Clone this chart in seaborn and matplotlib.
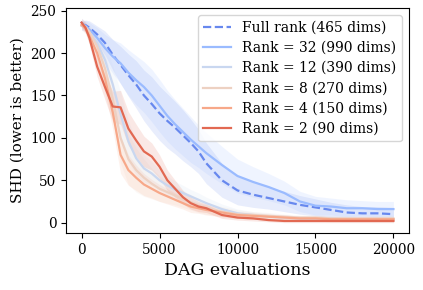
import matplotlib
matplotlib.use("Agg")
import matplotlib.pyplot as plt
import seaborn as sns
import numpy as np

evals = [0, 250, 500, 1000, 1500, 2000, 2500, 3000, 3500, 4000, 4500, 5000, 5500, 6000,
         6500, 7000, 7500, 8000, 9000, 10000, 11000, 12000, 13000, 14000, 15000, 16000,
         17000, 18000, 19000, 20000]

labels = ["Full rank (465 dims)", "Rank = 32 (990 dims)", "Rank = 12 (390 dims)",
          "Rank = 8 (270 dims)", "Rank = 4 (150 dims)", "Rank = 2 (90 dims)"]

full_rank = [232, 233, 230, 222, 212, 198, 186, 174, 163, 150, 140, 129, 120, 112,
             103, 94, 84, 70, 50, 38, 33, 29, 25, 21, 18, 15, 12, 11, 11, 10]
rank32 = [236, 232, 228, 218, 206, 196, 188, 177, 168, 160, 150, 138, 126, 116,
          107, 98, 90, 82, 68, 55, 48, 42, 35, 25, 20, 19, 17, 17, 16, 16]
rank12 = [232, 230, 224, 212, 192, 163, 128, 96, 76, 64, 58, 50, 44, 39,
          35, 31, 27, 23, 16, 11, 9, 7, 6, 5, 5, 5, 4, 4, 4, 4]
rank8 = [234, 231, 225, 208, 182, 145, 100, 75, 62, 53, 46, 40, 36, 32,
         28, 24, 20, 17, 13, 10, 9, 8, 7, 6, 6, 5, 5, 5, 5, 5]
rank4 = [233, 229, 220, 200, 170, 130, 80, 62, 53, 45, 40, 35, 31, 27,
         23, 19, 17, 15, 12, 9, 8, 7, 6, 5, 5, 4, 4, 4, 4, 4]
rank2 = [236, 230, 218, 184, 160, 137, 136, 111, 97, 84, 78, 66, 50, 40,
         30, 23, 19, 17, 9, 6, 5, 3, 2, 2, 2, 2, 2, 2, 2, 2]

# half width of the shaded band around each curve
spread_full = [5, 6, 8, 10, 14, 18, 22, 25, 28, 30, 32, 32, 32, 31,
               30, 28, 26, 24, 20, 17, 15, 13, 12, 11, 10, 9, 9, 8, 8, 8]
spread_32 = [5, 6, 8, 12, 16, 20, 24, 27, 29, 30, 31, 31, 30, 29,
             28, 27, 25, 24, 22, 20, 18, 16, 14, 12, 11, 10, 10, 9, 9, 9]
spread_12 = [5, 6, 8, 12, 16, 22, 26, 24, 20, 16, 14, 12, 11, 10,
             9, 8, 8, 7, 6, 5, 4, 4, 3, 3, 3, 3, 3, 3, 3, 3]
spread_8 = [5, 6, 8, 12, 16, 22, 30, 30, 26, 22, 18, 15, 13, 11,
            10, 9, 8, 7, 6, 5, 4, 4, 3, 3, 3, 3, 3, 3, 3, 3]
spread_4 = [5, 6, 8, 12, 16, 20, 22, 18, 15, 13, 11, 10, 9, 8,
            7, 7, 6, 6, 5, 4, 4, 3, 3, 3, 3, 3, 3, 3, 3, 3]
spread_2 = [5, 6, 8, 12, 15, 18, 20, 20, 19, 18, 16, 14, 12, 10,
            8, 7, 6, 5, 4, 3, 3, 2, 2, 2, 2, 2, 2, 2, 2, 2]

means = [full_rank, rank32, rank12, rank8, rank4, rank2]
spreads = [spread_full, spread_32, spread_12, spread_8, spread_4, spread_2]

plt.rcParams['font.family'] = ['DejaVu Serif']
colors = sns.color_palette("coolwarm", 6)

fig, ax = plt.subplots(figsize=(4.23, 2.9), dpi=100)
x = np.array(evals)
for mean, spread, label, color in zip(means, spreads, labels, colors):
    mean = np.array(mean)
    spread = np.array(spread)
    ax.fill_between(x, mean - spread, mean + spread, color=color, alpha=0.15, linewidth=0)
    sns.lineplot(x=x, y=mean, ax=ax, color=color, label=label, linewidth=1.6,
                 linestyle="--" if label.startswith("Full") else "-")

ax.set_xlabel("DAG evaluations", fontsize=12.5)
ax.set_ylabel("SHD (lower is better)", fontsize=11)
ax.set_xticks([0, 5000, 10000, 15000, 20000])
ax.set_yticks([0, 50, 100, 150, 200, 250])
ax.tick_params(labelsize=9.8)
ax.legend(loc="upper right", fontsize=10, labelspacing=0.45)
fig.subplots_adjust(left=0.156, right=0.967, bottom=0.197, top=0.972)
fig.savefig("out.png", dpi=100)
